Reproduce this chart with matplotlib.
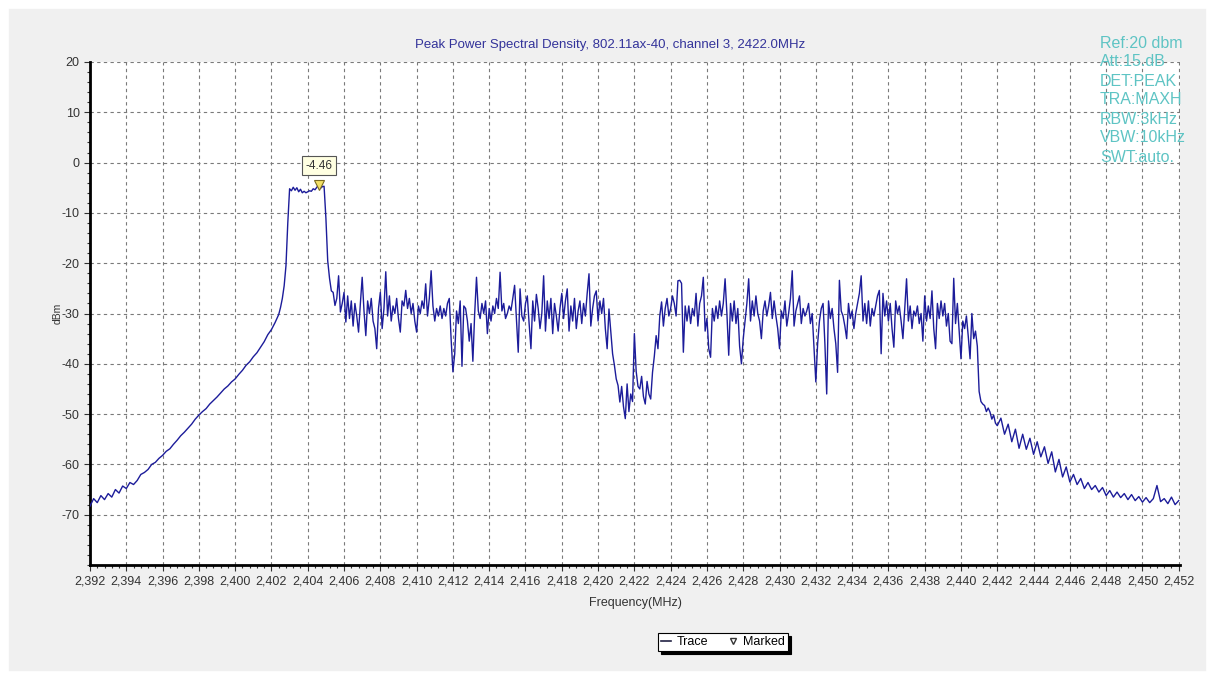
import numpy as np
import matplotlib
matplotlib.use('Agg')
import matplotlib.pyplot as plt
from matplotlib.lines import Line2D
from matplotlib.patches import Rectangle
from matplotlib.ticker import MultipleLocator, FuncFormatter

plt.rcParams['font.family'] = ['Liberation Sans', 'DejaVu Sans']
plt.rcParams['font.size'] = 9
plt.rcParams['axes.unicode_minus'] = False

# ---- trace data (dBm) ----
# lower skirt, 2392.0 .. 2402.4 MHz, 0.2 MHz step
skirt_lo_start, skirt_lo_step = 2392.0, 0.2
skirt_lo_db = [
    -68.3, -66.8, -67.6, -66.2, -67.0, -65.8, -66.5, -65.0, -65.7, -64.3,
    -64.8, -63.6, -64.0, -63.2, -62.0, -61.6, -61.0, -60.0, -59.6, -58.8,
    -58.2, -57.4, -56.9, -56.0, -55.2, -54.3, -53.6, -52.8, -52.0, -51.0,
    -50.2, -49.5, -48.9, -48.0, -47.3, -46.6, -45.8, -45.0, -44.4, -43.6,
    -43.0, -42.1, -41.3, -40.3, -39.6, -38.6, -37.8, -36.7, -35.6, -34.2,
    -33.2, -31.8, -30.2,
]

# occupied band, 2402.5 .. 2441.9 MHz, 0.1 MHz step (one row per MHz)
band_start, band_step = 2402.5, 0.1
band_db = [
    -28.8, -27.0, -24.5, -20.5, -12.0,
    -5.2, -5.6, -4.9, -5.5, -5.0, -5.8, -5.3, -6.0, -5.7, -6.0,
    -5.8, -5.6, -5.7, -5.2, -5.4, -4.9, -4.46, -5.1, -4.8, -4.7,
    -11.0, -19.5, -23.0, -25.5, -25.8, -28.4, -27.0, -22.5, -29.7, -28.0,
    -25.8, -31.7, -26.5, -31.0, -27.5, -32.5, -28.0, -30.5, -33.7, -28.0,
    -22.8, -29.5, -34.4, -27.5, -30.0, -27.0, -31.5, -33.0, -37.0, -29.0,
    -25.8, -33.0, -29.0, -21.7, -30.5, -26.5, -31.5, -28.5, -30.0, -27.0,
    -31.0, -33.7, -27.5, -28.5, -25.4, -29.0, -27.0, -30.0, -28.0, -31.5,
    -33.7, -28.5, -30.0, -27.5, -29.0, -24.1, -30.5, -27.0, -21.5, -28.5,
    -31.5, -29.0, -30.5, -28.5, -31.0, -29.0, -30.5, -28.0, -27.0, -35.0,
    -41.6, -38.0, -29.5, -32.0, -27.5, -40.5, -28.5, -29.0, -31.5, -35.5,
    -32.0, -39.5, -30.0, -22.8, -29.5, -31.0, -28.0, -30.0, -27.5, -34.0,
    -29.0, -31.5, -28.5, -30.0, -27.0, -29.0, -21.8, -29.5, -28.0, -31.0,
    -30.0, -28.5, -29.4, -27.0, -24.4, -31.0, -37.7, -25.1, -30.5, -31.5,
    -28.0, -26.5, -32.0, -37.0, -27.5, -31.5, -26.2, -29.0, -33.0, -30.0,
    -22.5, -33.5, -27.5, -31.0, -27.0, -34.0, -28.0, -30.5, -33.5, -29.0,
    -26.0, -31.0, -27.5, -25.1, -33.5, -28.5, -31.5, -27.0, -33.0, -29.5,
    -27.5, -32.0, -28.0, -30.5, -26.0, -22.1, -32.5, -29.0, -26.5, -25.5,
    -31.5, -27.5, -30.0, -27.0, -33.0, -37.0, -29.1, -33.5, -38.0, -40.3,
    -43.0, -44.3, -47.6, -44.5, -48.5, -50.9, -44.0, -49.5, -46.0, -47.5,
    -34.0, -41.5, -44.5, -45.0, -42.5, -46.5, -48.0, -43.5, -46.0, -47.0,
    -41.7, -38.5, -34.4, -37.0, -30.5, -27.7, -32.5, -29.0, -27.0, -30.5,
    -29.0, -26.5, -28.0, -30.5, -23.5, -23.4, -24.0, -37.7, -28.5, -31.5,
    -28.5, -32.0, -29.0, -30.5, -26.0, -32.5, -28.0, -26.5, -22.8, -33.5,
    -31.0, -37.0, -38.7, -29.0, -31.5, -28.5, -31.0, -27.5, -30.5, -28.0,
    -23.1, -30.0, -38.3, -28.0, -31.5, -27.5, -32.0, -29.0, -36.5, -40.0,
    -35.0, -31.5, -28.0, -23.1, -31.5, -27.5, -30.5, -26.5, -30.0, -31.5,
    -35.0, -29.5, -27.5, -30.5, -28.5, -25.8, -31.0, -27.5, -30.5, -33.0,
    -37.0, -29.5, -31.0, -27.5, -32.5, -30.0, -27.0, -21.5, -32.5, -29.5,
    -28.0, -26.5, -32.0, -29.0, -30.5, -29.5, -28.0, -32.0, -30.0, -37.0,
    -43.6, -36.0, -31.5, -29.0, -28.0, -36.0, -46.0, -27.5, -31.0, -29.0,
    -33.0, -36.0, -41.7, -23.4, -29.5, -30.5, -32.5, -35.0, -28.0, -31.0,
    -29.5, -33.0, -30.0, -28.0, -26.0, -22.5, -31.5, -28.0, -32.0, -27.5,
    -32.5, -29.0, -30.5, -28.5, -26.5, -25.4, -38.0, -26.0, -30.5, -27.5,
    -31.5, -28.0, -33.0, -36.7, -27.5, -30.0, -28.5, -31.5, -35.0, -29.0,
    -23.1, -31.5, -28.5, -33.0, -29.5, -30.5, -28.5, -32.0, -30.0, -35.5,
    -26.5, -31.5, -28.5, -31.0, -25.5, -33.0, -37.0, -28.0, -31.0, -27.5,
    -30.5, -28.0, -32.5, -30.0, -35.5, -36.0, -23.0, -32.0, -28.0, -33.5,
    -39.0, -31.5, -33.0, -30.5, -34.5, -39.0, -30.0, -35.0, -33.5, -36.5,
    -45.5, -47.5, -48.0, -48.3, -49.5, -48.8, -49.6, -51.0, -50.2, -51.8,
]

# upper skirt, 2442.0 .. 2452.0 MHz, 0.2 MHz step
skirt_hi_start, skirt_hi_step = 2442.0, 0.2
skirt_hi_db = [
    -52.3, -50.8, -54.0, -52.0, -55.5, -53.0, -56.8, -54.0, -57.0, -54.8,
    -58.0, -55.5, -58.5, -56.5, -59.8, -57.5, -61.5, -59.0, -62.5, -60.5,
    -63.5, -62.0, -64.0, -62.8, -64.8, -63.6, -65.0, -64.2, -65.5, -64.6,
    -66.2, -65.2, -66.5, -65.5, -66.6, -65.8, -67.0, -66.0, -67.2, -66.4,
    -67.5, -66.6, -67.6, -66.8, -64.2, -67.4, -66.8, -67.8, -66.5, -68.0,
    -67.2,
]

# peak marker
mark_freq = 2404.6
mark_db = -4.46

info_lines = ['Ref:20 dbm', 'Att:15.dB', 'DET:PEAK', 'TRA:MAXH',
              'RBW:3kHz', 'VBW:10kHz', 'SWT:auto.']

freq = np.concatenate([
    skirt_lo_start + skirt_lo_step * np.arange(len(skirt_lo_db)),
    band_start + band_step * np.arange(len(band_db)),
    skirt_hi_start + skirt_hi_step * np.arange(len(skirt_hi_db)),
])
level = np.concatenate([skirt_lo_db, band_db, skirt_hi_db])

W, H = 1214, 679
fig = plt.figure(figsize=(W / 100, H / 100), dpi=100, facecolor='#f0f0f0')
# thin white border around the panel
fig.patches.append(Rectangle((0, 0), 1, 1, transform=fig.transFigure,
                             fill=False, edgecolor='white', linewidth=12))

ax = fig.add_axes([90 / W, 1 - 565 / H, (1180 - 90) / W, (565 - 62) / H])
ax.set_facecolor('white')

trace_color = '#1c1c9a'
ax.plot(freq, level, color=trace_color, linewidth=1.0, zorder=3)

# marker and value tag
ax.plot([mark_freq], [mark_db], marker='v', markersize=7,
        markerfacecolor='#f2e066', markeredgecolor='#7a6a20',
        markeredgewidth=0.8, linestyle='none', zorder=5)
ax.text(mark_freq, mark_db + 3.8, f'{mark_db:.2f}', ha='center', va='center',
        fontsize=8.5, color='#333333', zorder=6,
        bbox=dict(boxstyle='square,pad=0.3', facecolor='#ffffe1',
                  edgecolor='#555555', linewidth=0.8))

ax.set_xlim(2392, 2452.07)
ax.set_ylim(-80, 20)
ax.set_xticks(np.arange(2392, 2453, 2))
ax.set_yticks(np.arange(-70, 21, 10))
ax.xaxis.set_minor_locator(MultipleLocator(0.4))
ax.yaxis.set_minor_locator(MultipleLocator(2))
ax.xaxis.set_major_formatter(FuncFormatter(lambda v, p: f'{v:,.0f}'))
ax.tick_params(which='both', direction='out', colors='#333333',
               labelsize=9, width=0.8)
ax.tick_params(which='major', length=4)
ax.tick_params(which='minor', length=2.5)

ax.grid(True, which='major', color='#7a7a7a', linestyle=(0, (3, 3)),
        linewidth=0.8)
ax.set_axisbelow(True)

for side in ['top', 'right']:
    ax.spines[side].set_visible(False)
for side in ['left', 'bottom']:
    ax.spines[side].set_linewidth(2)
    ax.spines[side].set_color('black')

ax.set_xlabel('Frequency(MHz)', fontsize=9, color='#333333')
ax.set_ylabel('dBm', fontsize=7.5, color='#333333')
ax.xaxis.set_label_coords(0.5, -(597 - 565) / 503)
ax.yaxis.set_label_coords(-(90 - 63) / 1090, 0.5)

fig.text(610 / W, 1 - 45 / H,
         'Peak Power Spectral Density, 802.11ax-40, channel 3, 2422.0MHz',
         ha='center', va='center', fontsize=9.5, color='#33339a')

# instrument settings block
for i, line in enumerate(info_lines):
    fig.text(1100 / W, 1 - (43 + 19 * i) / H, line, ha='left', va='center',
             fontsize=11.5, color='#5ec4c4')

# legend with hard black shadow
handles = [
    Line2D([], [], color='#222244', linewidth=1.2),
    Line2D([], [], marker='v', markersize=5, markerfacecolor='white',
           markeredgecolor='#333333', linestyle='none'),
]
leg = fig.legend(handles, ['Trace', 'Marked'], loc='center',
                 bbox_to_anchor=(723 / W, 1 - 642 / H), ncol=2,
                 fontsize=9, frameon=True, fancybox=False,
                 edgecolor='black', facecolor='white', framealpha=1,
                 handlelength=0.8, handletextpad=0.4, columnspacing=1.6,
                 borderpad=0.25,
                 shadow={'facecolor': 'black', 'edgecolor': 'black',
                         'alpha': 1})
leg.get_frame().set_linewidth(0.8)

fig.savefig('out.png', dpi=100, facecolor=fig.get_facecolor())
